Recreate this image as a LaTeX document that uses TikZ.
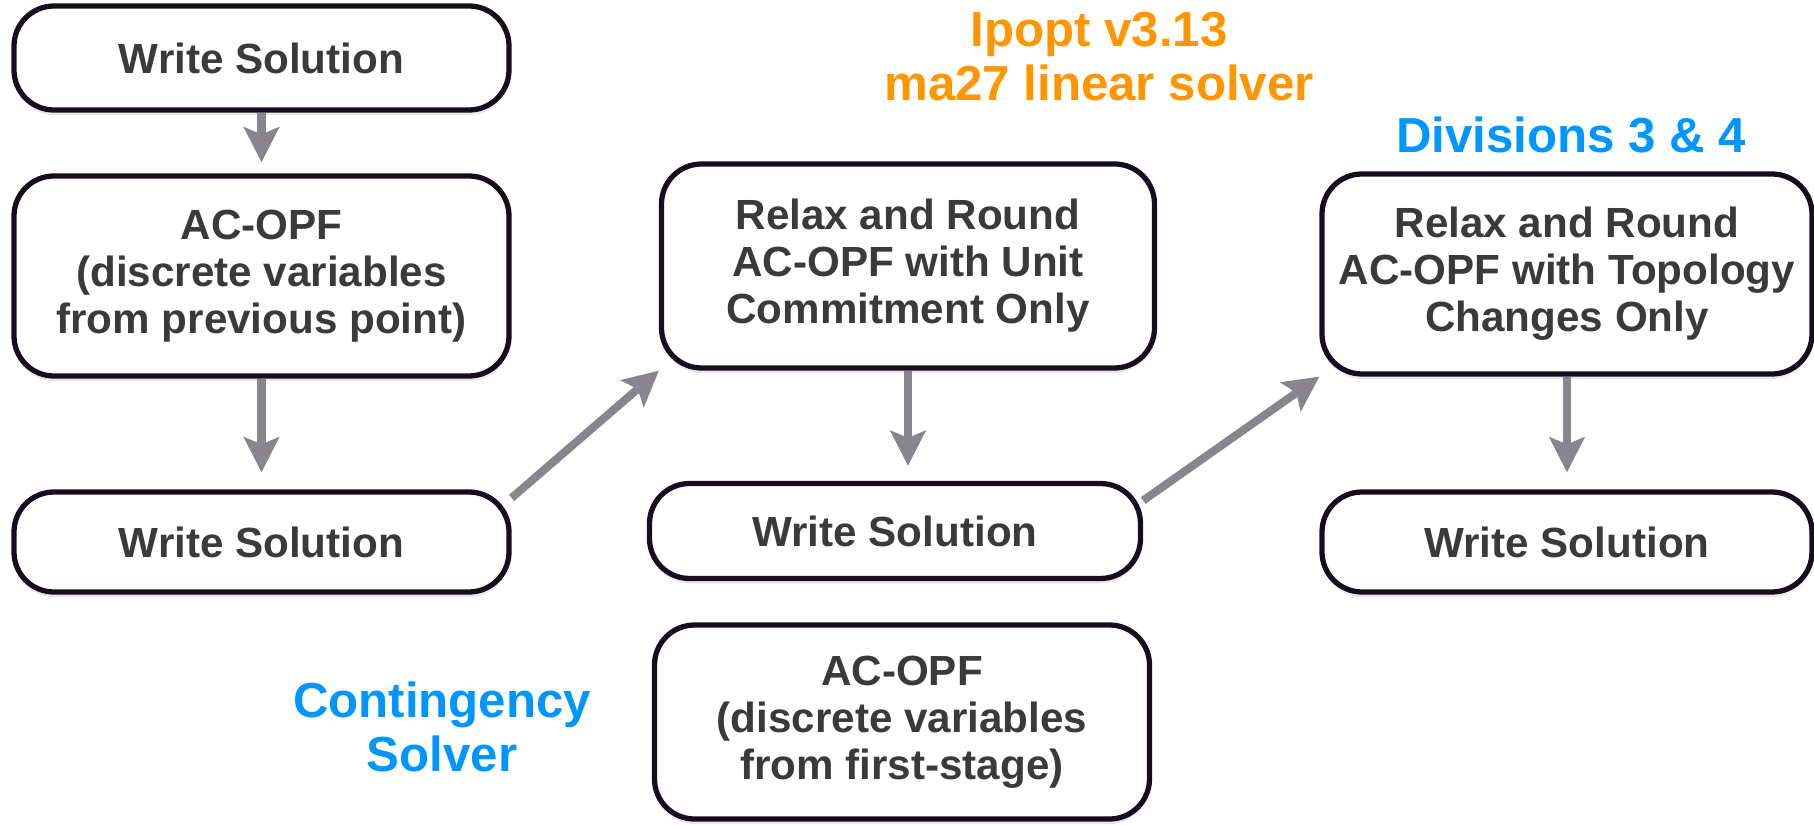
\documentclass[tikz,border=0pt]{standalone}
\usepackage{fontspec}
\setmainfont{Liberation Sans}
\usetikzlibrary{arrows.meta,shadows}
\definecolor{boxline}{RGB}{22,14,30}
\definecolor{boxtext}{RGB}{58,58,58}
\definecolor{flowgray}{RGB}{136,133,142}
\definecolor{ipoptorange}{RGB}{255,150,0}
\definecolor{divblue}{RGB}{0,150,255}

\begin{document}
\begin{tikzpicture}[
    stage/.style={draw=boxline, line width=3pt, rounded corners=0.8cm, fill=white,
      text=boxtext, font=\fontsize{24}{26.7}\selectfont\bfseries, align=center,
      minimum width=9.9cm, inner sep=0pt,
      drop shadow={shadow xshift=0pt, shadow yshift=-0.1cm, opacity=0.18}},
    flow/.style={draw=flowgray, line width=4.6pt,
      -{Stealth[length=0.7cm,width=0.7cm,inset=0.14cm]}},
    tag/.style={font=\fontsize{28}{31}\selectfont\bfseries, align=center}]
  \useasboundingbox (0,0) rectangle (36.28,-16.52);

  % first column
  \node[stage, minimum height=2.08cm] (ws1)  at (5.23,-1.16) {Write Solution};
  \node[stage, minimum height=4.0cm]  (opf1) at (5.23,-5.52) {AC-OPF\\(discrete variables\\from previous point)};
  \node[stage, minimum height=2.0cm]  (ws2)  at (5.23,-10.84) {Write Solution};

  % second column
  \node[stage, minimum width=9.86cm, minimum height=4.08cm] (uc) at (18.16,-5.32) {Relax and Round\\AC-OPF with Unit\\Commitment Only};
  \node[stage, minimum width=9.82cm, minimum height=1.9cm] (ws3) at (17.9,-10.62) {Write Solution};
  \node[stage, minimum height=3.88cm] (opf2) at (18.04,-14.44) {AC-OPF\\(discrete variables\\from first-stage)};

  % third column
  \node[stage, minimum width=9.8cm, minimum height=4.0cm] (topo) at (31.34,-5.48) {Relax and Round\\AC-OPF with Topology\\Changes Only};
  \node[stage, minimum width=9.8cm, minimum height=2.0cm] (ws4) at (31.34,-10.84) {Write Solution};

  % labels
  \node[tag, text=ipoptorange] (ipopt) at (21.98,-1.13) {Ipopt v3.13\\ma27 linear solver};
  \node[tag, text=divblue] (divs) at (31.42,-2.7) {Divisions 3 \& 4};
  \node[tag, text=divblue] (cont) at (8.84,-14.54) {Contingency\\Solver};

  % flow
  \draw[flow, shorten >=0.22cm] (ws1.south) -- (opf1.north);
  \draw[flow, shorten >=0.34cm] (opf1.south) -- (ws2.north);
  \draw[flow] (ws2.10) -- (uc.south west);
  \draw[flow, shorten >=0.3cm] (uc.south) -- (uc.south |- ws3.north);
  \draw[flow] (ws3.7) -- (topo.south west);
  \draw[flow, shorten >=0.34cm] (topo.south) -- (ws4.north);
\end{tikzpicture}
\end{document}
